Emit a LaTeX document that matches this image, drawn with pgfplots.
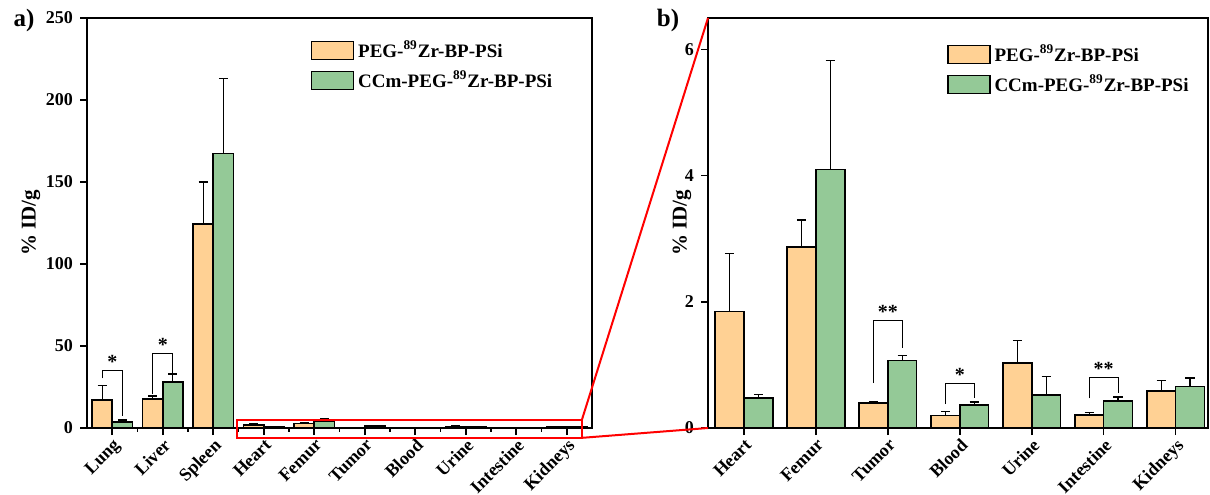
\documentclass[border=0pt]{standalone}
\usepackage{fontspec}
\setmainfont{Liberation Serif}
\usepackage{pgfplots}
\pgfplotsset{compat=1.18}

\definecolor{peg}{RGB}{255,209,148}
\definecolor{ccm}{RGB}{148,201,151}

\pgfplotsset{
  organ/.style={
    scale only axis,
    ybar, bar width=0.4,
    /pgf/number format/assume math mode=true,
    tick label style={font=\fontsize{9}{10}\selectfont\bfseries},
    ylabel={\% ID/g},
    ylabel style={font=\fontsize{10.5}{11}\selectfont\bfseries},
    xtick pos=bottom, ytick pos=left,
    tick align=outside,
    major tick length=3.5pt, minor tick length=1.8pt,
    every tick/.style={black,line width=0.8pt},
    axis line style={line width=1pt},
    x tick label style={rotate=45,anchor=north east,inner sep=0.8pt},
    legend cell align=left,
    legend style={draw=none,fill=none,font=\fontsize{9.5}{10.5}\selectfont\bfseries,
      row sep=1.2pt,anchor=north west},
    legend image code/.code={\draw[#1] (0pt,-4.5pt) rectangle (21pt,4.5pt);},
    clip=false,
  },
  pegbar/.style={fill=peg,draw=black,line width=0.8pt,bar shift=0pt,
    error bars/.cd,y dir=plus,y explicit,
    error bar style={line width=0.6pt,black},
    error mark options={rotate=90,mark size=2.3pt,line width=0.7pt,black}},
  ccmbar/.style={fill=ccm,draw=black,line width=0.8pt,bar shift=0pt,
    error bars/.cd,y dir=plus,y explicit,
    error bar style={line width=0.6pt,black},
    error mark options={rotate=90,mark size=2.3pt,line width=0.7pt,black}},
}

\begin{document}
\begin{tikzpicture}
\useasboundingbox (0,0) rectangle (605pt,247pt);

% ---------------- a) all organs
\begin{axis}[organ, name=A,
  at={(43.5pt,33pt)}, anchor=south west,
  width=252.5pt, height=205pt,
  xmin=-0.5, xmax=9.5, ymin=0, ymax=250,
  xtick={0,...,9},
  xticklabels={Lung,Liver,Spleen,Heart,Femur,Tumor,Blood,Urine,Intestine,Kidneys},
  minor xtick={0.5,1.5,...,8.5},
  ytick={0,50,100,150,200,250},
  ylabel shift=-4pt,
  legend style={at={(0.43,0.965)}},
]
\addplot[pegbar] coordinates {
  (-0.2,17.0) +- (0,9.0)
  (0.8,17.7) +- (0,1.8)
  (1.8,124.5) +- (0,25.5)
  (2.8,1.85) +- (0,0.92)
  (3.8,2.87) +- (0,0.43)
  (4.8,0.40) +- (0,0.02)
  (5.8,0.20) +- (0,0.06)
  (6.8,1.03) +- (0,0.36)
  (7.8,0.21) +- (0,0.04)
  (8.8,0.59) +- (0,0.16)
};
\addlegendentry{PEG-\textsuperscript{89}Zr-BP-PSi}
\addplot[ccmbar] coordinates {
  (0.2,3.6) +- (0,1.4)
  (1.2,28.2) +- (0,4.8)
  (2.2,167.5) +- (0,45.5)
  (3.2,0.48) +- (0,0.05)
  (4.2,4.10) +- (0,1.73)
  (5.2,1.07) +- (0,0.08)
  (6.2,0.36) +- (0,0.05)
  (7.2,0.52) +- (0,0.30)
  (8.2,0.43) +- (0,0.06)
  (9.2,0.66) +- (0,0.13)
};
\addlegendentry{CCm-PEG-\textsuperscript{89}Zr-BP-PSi}
% significance brackets
\draw[line width=0.5pt] (axis cs:-0.2,30.3) |- (axis cs:0.2,35) -- (axis cs:0.2,7.5);
\node[font=\fontsize{10}{10}\selectfont\bfseries,anchor=south,inner sep=0.5pt] at (axis cs:0,35.5) {*};
\draw[line width=0.5pt] (axis cs:0.8,20.7) |- (axis cs:1.2,45.5) -- (axis cs:1.2,33.7);
\node[font=\fontsize{10}{10}\selectfont\bfseries,anchor=south,inner sep=0.5pt] at (axis cs:1,46) {*};
% zoom window
\draw[red,line width=1pt] (axis cs:2.47,-6) rectangle (axis cs:9.3,5);
\coordinate (zt) at (axis cs:9.3,5);
\coordinate (zb) at (axis cs:9.3,-6);
\end{axis}

\node[font=\fontsize{12.5}{12.5}\selectfont\bfseries] at (12pt,237pt) {a)};
\node[font=\fontsize{12.5}{12.5}\selectfont\bfseries] at (334pt,237pt) {b)};

% ---------------- b) zoomed organs
\begin{axis}[organ, name=B,
  at={(354pt,33pt)}, anchor=south west,
  width=250pt, height=205pt,
  xmin=-0.5, xmax=6.45, ymin=0, ymax=6.5,
  xtick={0,...,6},
  xticklabels={Heart,Femur,Tumor,Blood,Urine,Intestine,Kidneys},
  ytick={0,2,4,6},
  ylabel shift=-10pt,
  legend style={at={(0.465,0.955)}},
]
\addplot[pegbar] coordinates {
  (-0.2,1.85) +- (0,0.92)
  (0.8,2.87) +- (0,0.43)
  (1.8,0.40) +- (0,0.02)
  (2.8,0.20) +- (0,0.06)
  (3.8,1.03) +- (0,0.36)
  (4.8,0.21) +- (0,0.04)
  (5.8,0.59) +- (0,0.16)
};
\addlegendentry{PEG-\textsuperscript{89}Zr-BP-PSi}
\addplot[ccmbar] coordinates {
  (0.2,0.48) +- (0,0.05)
  (1.2,4.10) +- (0,1.73)
  (2.2,1.07) +- (0,0.08)
  (3.2,0.36) +- (0,0.05)
  (4.2,0.52) +- (0,0.30)
  (5.2,0.43) +- (0,0.06)
  (6.2,0.66) +- (0,0.13)
};
\addlegendentry{CCm-PEG-\textsuperscript{89}Zr-BP-PSi}
\draw[line width=0.5pt] (axis cs:1.8,0.71) |- (axis cs:2.2,1.70) -- (axis cs:2.2,1.27);
\node[font=\fontsize{10}{10}\selectfont\bfseries,anchor=south,inner sep=0.5pt] at (axis cs:2,1.71) {**};
\draw[line width=0.5pt] (axis cs:2.8,0.38) |- (axis cs:3.2,0.71) -- (axis cs:3.2,0.47);
\node[font=\fontsize{10}{10}\selectfont\bfseries,anchor=south,inner sep=0.5pt] at (axis cs:3,0.72) {*};
\draw[line width=0.5pt] (axis cs:4.8,0.47) |- (axis cs:5.2,0.80) -- (axis cs:5.2,0.55);
\node[font=\fontsize{10}{10}\selectfont\bfseries,anchor=south,inner sep=0.5pt] at (axis cs:5,0.81) {**};
\end{axis}

\draw[red,line width=1pt] (zt) -- (B.north west);
\draw[red,line width=1pt] (zb) -- (B.south west);
\end{tikzpicture}
\end{document}
